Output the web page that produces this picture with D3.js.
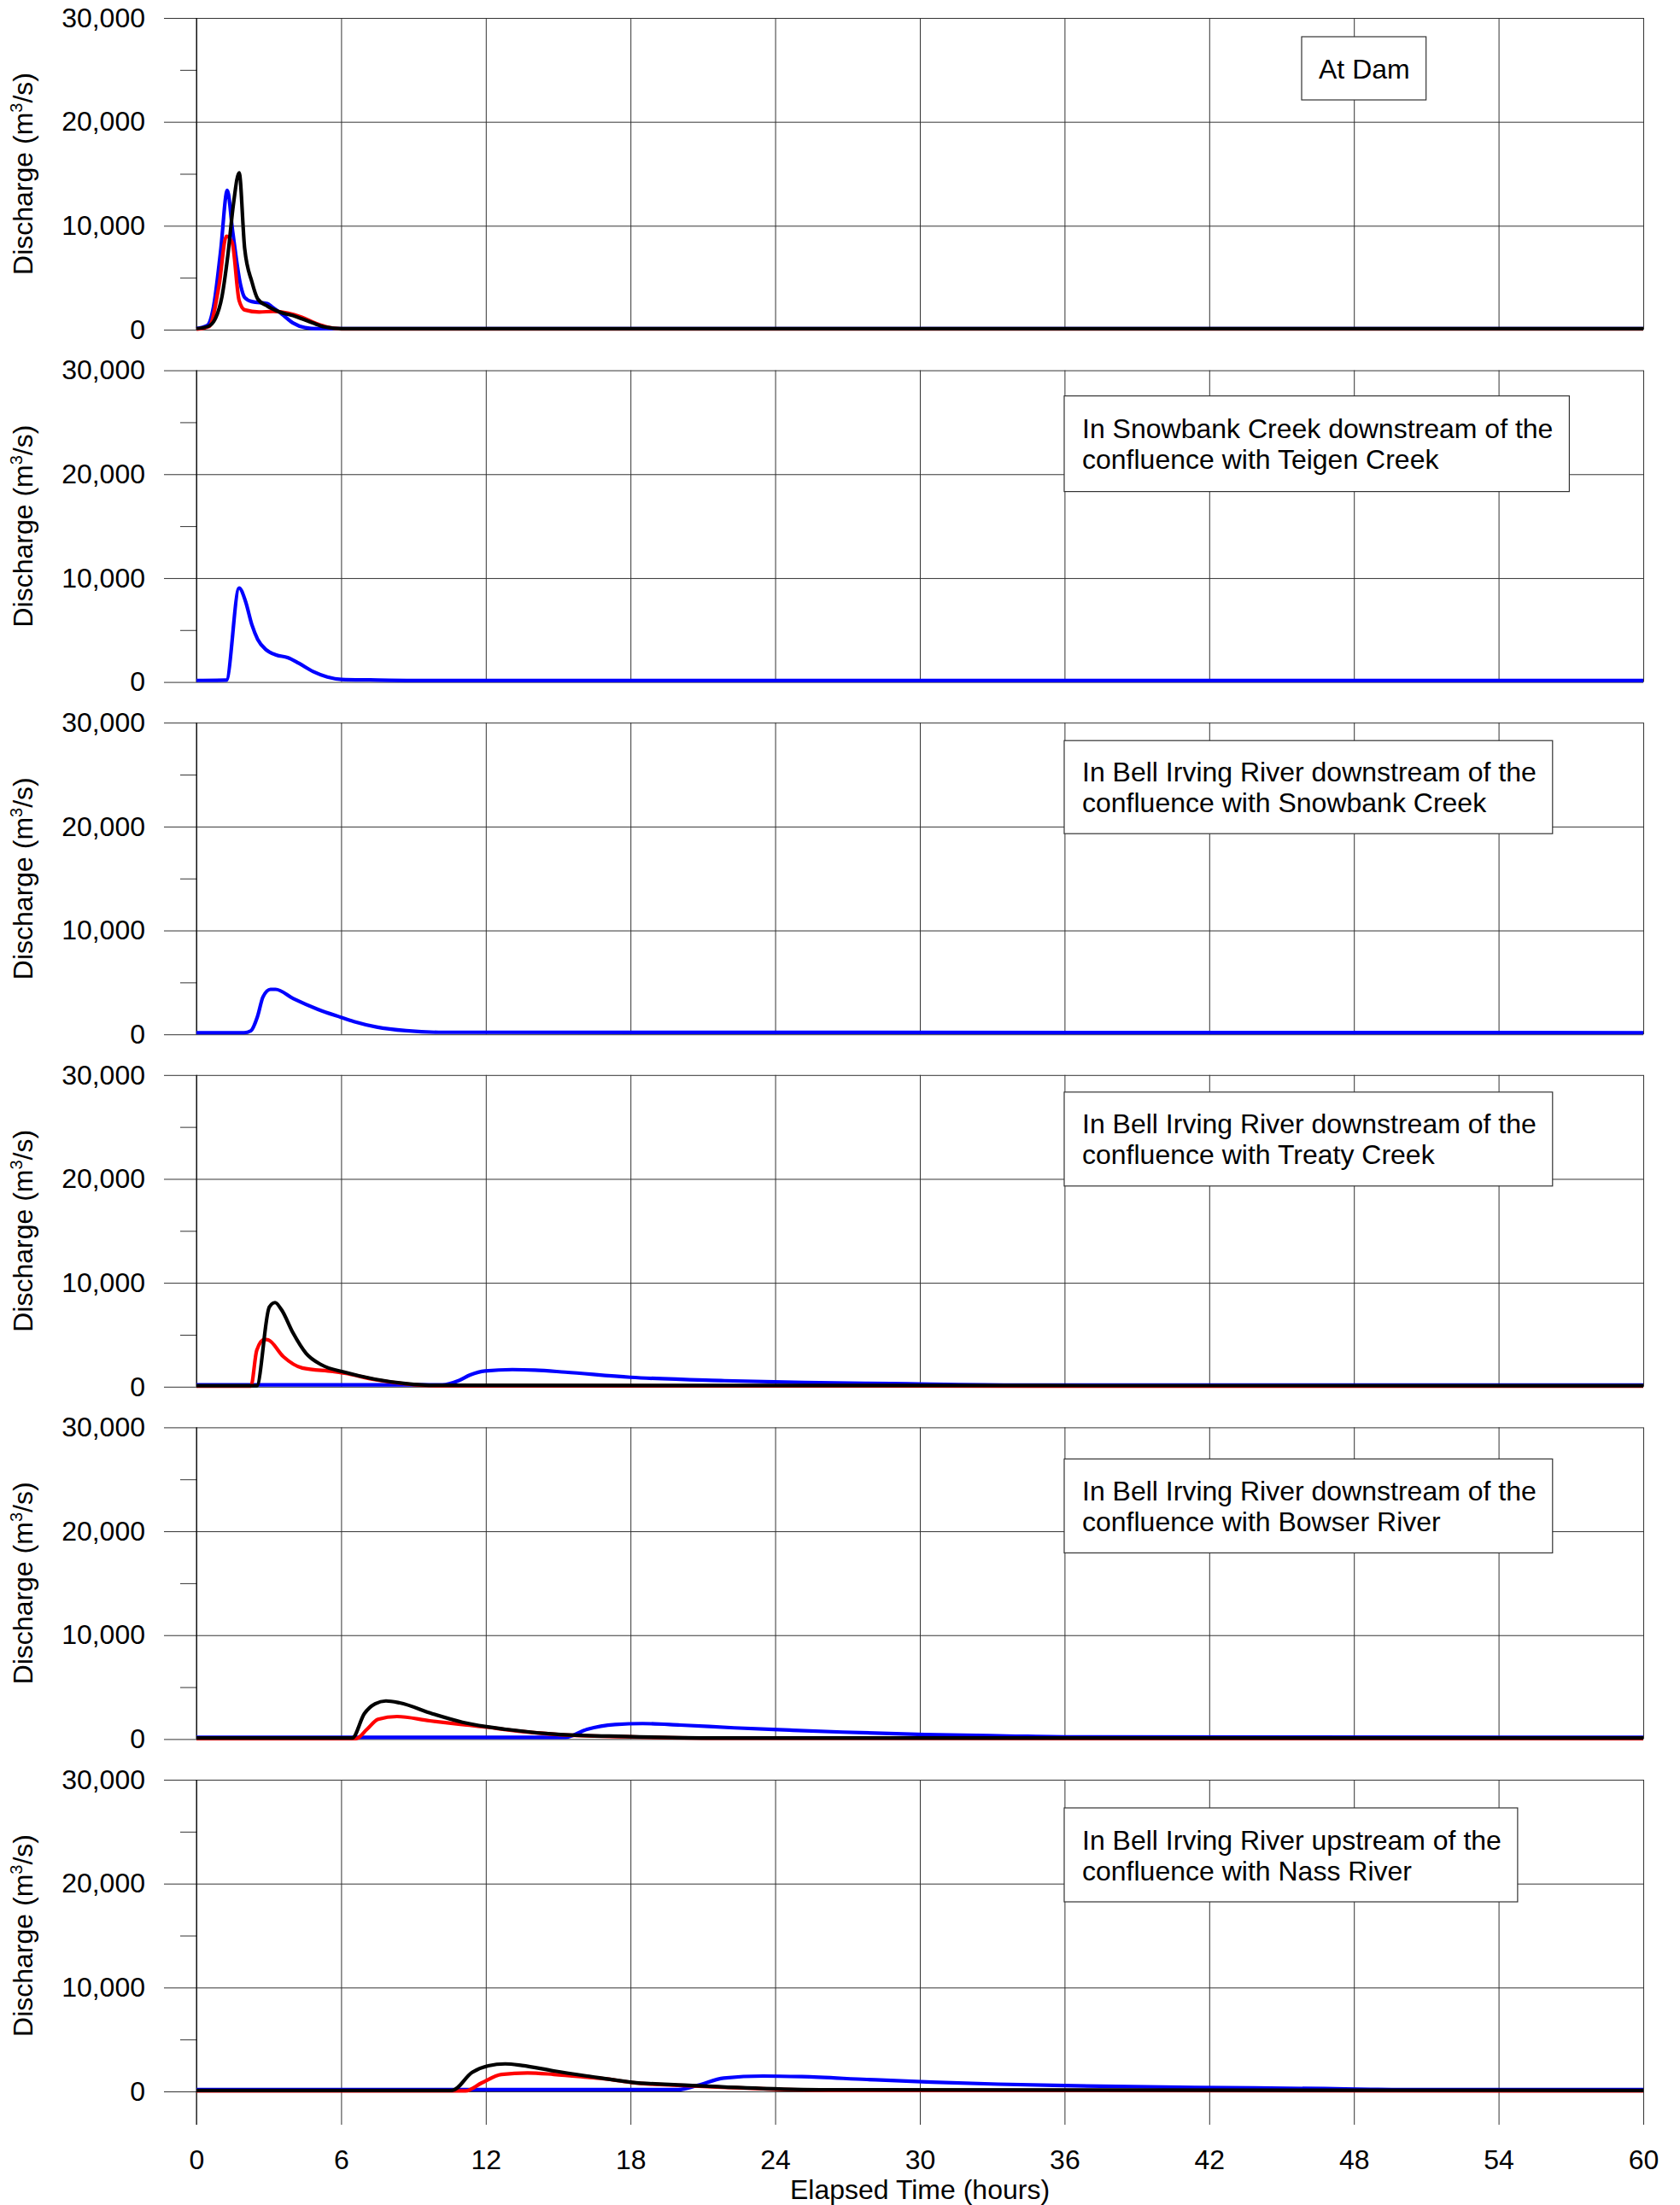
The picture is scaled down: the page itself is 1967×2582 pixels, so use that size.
<!DOCTYPE html>
<html>
<head>
<meta charset="utf-8">
<script src="https://cdnjs.cloudflare.com/ajax/libs/d3/7.8.5/d3.min.js"></script>
<style>
body { margin: 0; background: #fff; }
svg { display: block; background: #fff; }
text { font-family: "Liberation Sans", Arial, sans-serif; }
</style>
</head>
<body>
<svg width="1967" height="2582"></svg>
<script>
// ---- data (hours, m3/s) ----
var xTicks = [0, 6, 12, 18, 24, 30, 36, 42, 48, 54, 60];
var yTicks = [0, 10000, 20000, 30000];
var yMinor = [5000, 15000, 25000];

var panelLabels = [
  ["At Dam"],
  ["In Snowbank Creek downstream of the", "confluence with Teigen Creek"],
  ["In Bell Irving River downstream of the", "confluence with Snowbank Creek"],
  ["In Bell Irving River downstream of the", "confluence with Treaty Creek"],
  ["In Bell Irving River downstream of the", "confluence with Bowser River"],
  ["In Bell Irving River upstream of the", "confluence with Nass River"]
];

var damBlue = [[0,100],[0.45,400],[0.7,2100],[1.0,7500],[1.28,13400],[1.5,9500],[1.83,4300],[2.0,3100],[2.3,2700],[2.95,2500],[3.13,2200],[3.54,1500],[4.0,650],[4.5,200],[5.0,100],[60,100]];
var damRed = [[0,40],[0.53,300],[0.94,4300],[1.24,9000],[1.48,8400],[1.77,2800],[2.0,1900],[2.6,1700],[3.19,1750],[3.78,1600],[4.37,1200],[4.96,600],[5.43,250],[6.0,80],[60,60]];
var damBlack = [[0,100],[0.47,300],[0.77,1000],[1.06,3200],[1.3,7100],[1.53,12000],[1.77,15100],[2.0,7800],[2.3,4600],[2.54,2960],[2.95,2250],[3.42,1730],[4.13,1260],[4.84,630],[5.3,270],[6.0,100],[60,100]];

var teigenBlue = [[0,150],[1.24,180],[1.77,9050],[2.03,7800],[2.3,5500],[2.54,4100],[2.89,3100],[3.31,2600],[3.78,2350],[4.25,1800],[4.84,1000],[5.43,480],[6.02,250],[7.2,200],[9,150],[60,150]];

var snowbankBlue = [[0,160],[1.98,160],[2.26,350],[2.53,1700],[2.76,3600],[3.07,4330],[3.28,4330],[4.02,3430],[5.04,2400],[5.99,1640],[6.53,1230],[7.47,710],[8.7,350],[10.05,200],[60,160]];

var treatyBlack = [[0,100],[2.5,100],[3.02,7650],[3.26,8100],[3.53,7400],[4.0,5200],[4.55,3200],[5.19,2100],[6.14,1400],[7.4,720],[8.67,300],[9.92,130],[60,100]];
var treatyRed = [[0,50],[2.26,50],[2.5,3500],[2.82,4550],[2.98,4500],[3.6,2900],[4.39,1800],[5.66,1460],[6.14,1300],[7.4,680],[8.67,270],[9.92,90],[60,50]];
var treatyBlue = [[0,180],[10.2,180],[10.87,580],[11.35,1130],[11.97,1520],[13.1,1650],[14.04,1600],[15.3,1400],[18,910],[21.9,580],[25.2,400],[28.8,300],[34.2,170],[60,170]];

var bowserBlack = [[0,100],[6.46,100],[6.96,2440],[7.41,3400],[7.86,3670],[8.43,3480],[9.78,2440],[11.03,1620],[12.84,940],[15.1,440],[17.8,250],[21.9,100],[60,100]];
var bowserRed = [[0,50],[6.62,50],[7.07,940],[7.53,1900],[8.32,2170],[9.67,1760],[11.03,1400],[12.15,1120],[12.84,900],[15.1,420],[17.8,220],[21.9,80],[60,50]];
var bowserBlue = [[0,170],[15.3,170],[16.2,940],[17.36,1400],[18.5,1490],[20.06,1350],[22.3,1080],[24.6,860],[26.8,670],[30.2,440],[33.6,300],[36.6,200],[60,170]];

var nassBlack = [[0,100],[10.6,100],[11.43,1830],[12.1,2460],[12.8,2650],[13.5,2500],[14.82,1970],[16.2,1480],[18.06,880],[20.24,600],[23.5,280],[26.5,150],[60,100]];
var nassRed = [[0,50],[11.16,50],[11.83,820],[12.65,1640],[13.73,1780],[14.82,1640],[16.2,1370],[17,1200],[18.06,850],[20.24,560],[23.5,250],[26.5,100],[60,50]];
var nassBlue = [[0,170],[19.97,170],[20.8,600],[21.87,1290],[23.5,1480],[25.1,1420],[27.8,1150],[30.5,900],[33.25,700],[36,560],[41.4,380],[46.8,270],[48.7,200],[50,170],[60,170]];

var panelSeries = [
  [damBlue, damRed, damBlack],
  [teigenBlue],
  [snowbankBlue],
  [treatyBlue, treatyRed, treatyBlack],
  [bowserBlue, bowserRed, bowserBlack],
  [nassBlue, nassRed, nassBlack]
];
var seriesColors = [
  ["#0000ff", "#ff0000", "#000000"],
  ["#0000ff"],
  ["#0000ff"],
  ["#0000ff", "#ff0000", "#000000"],
  ["#0000ff", "#ff0000", "#000000"],
  ["#0000ff", "#ff0000", "#000000"]
];

// ---- layout ----
var svg = d3.select("svg"),
    left = 230, right = 1924,
    top0 = 21, step = 412.6, panelH = 365,
    fontSize = 32;

// legend box placement per panel: [offset from panel top, box height]
var boxPos = [[22, 74], [30, 112], [21, 109], [20, 110], [37, 110], [33, 110]];

var x = d3.scaleLinear().domain([0, 60]).range([0, right - left]);
var y = d3.scaleLinear().domain([0, 30000]).range([panelH, 0]);

var line = d3.line()
    .x(function(d) { return x(d[0]); })
    .y(function(d) { return y(d[1]); })
    .curve(d3.curveMonotoneX);

panelSeries.forEach(function(series, i) {
  var g = svg.append("g")
      .attr("transform", "translate(" + left + "," + (top0 + i * step) + ")");
  var last = i == panelSeries.length - 1;

  // vertical grid
  g.append("g")
      .attr("transform", "translate(0," + panelH + ")")
      .call(d3.axisBottom(x).tickValues(xTicks).tickSize(-panelH).tickFormat(""))
      .call(function(a) { a.select(".domain").remove(); })
      .selectAll("line").attr("stroke", "#333");

  // horizontal grid
  g.append("g")
      .call(d3.axisRight(y).tickValues(yTicks).tickSize(right - left).tickFormat(""))
      .call(function(a) { a.select(".domain").remove(); })
      .selectAll("line").attr("stroke", "#333");

  // y axis: major with labels, minor ticks
  var ya = g.append("g")
      .call(d3.axisLeft(y).tickValues(yTicks).tickSize(38).tickPadding(22).tickFormat(d3.format(",")));
  ya.select(".domain").remove();
  ya.selectAll("line").attr("stroke", "#333");
  ya.selectAll("text")
      .attr("font-size", fontSize)
      .attr("font-family", "Liberation Sans, Arial, sans-serif")
      .attr("fill", "#000");

  g.append("g")
      .call(d3.axisLeft(y).tickValues(yMinor).tickSize(19).tickFormat(""))
      .call(function(a) { a.select(".domain").remove(); })
      .selectAll("line").attr("stroke", "#333");

  g.append("line")
      .attr("x1", 0).attr("x2", 0)
      .attr("y1", 0).attr("y2", last ? panelH + 39 : panelH)
      .attr("stroke", "#000");

  if (last) {
    var xa = g.append("g")
        .attr("transform", "translate(0," + panelH + ")")
        .call(d3.axisBottom(x).tickValues(xTicks).tickSize(39).tickPadding(29));
    xa.select(".domain").remove();
    xa.selectAll("line").attr("stroke", "#333");
    xa.selectAll("text")
        .attr("font-size", fontSize)
        .attr("font-family", "Liberation Sans, Arial, sans-serif")
        .attr("fill", "#000");
  }

  // y label
  var yl = g.append("text")
      .attr("transform", "translate(" + (38 - left) + "," + (panelH / 2) + ") rotate(-90)")
      .attr("text-anchor", "middle")
      .attr("font-size", fontSize);
  yl.append("tspan").text("Discharge (m");
  yl.append("tspan").attr("font-size", 20).attr("dy", -12).text("3");
  yl.append("tspan").attr("dy", 12).text("/s)");

  // curves
  series.forEach(function(s, j) {
    g.append("path")
        .datum(s)
        .attr("fill", "none")
        .attr("stroke", seriesColors[i][j])
        .attr("stroke-width", 4.2)
        .attr("stroke-linejoin", "round")
        .attr("d", line);
  });

  // label box
  var lab = panelLabels[i];
  var bg = g.append("g");
  var rect = bg.append("rect")
      .attr("fill", "#fff")
      .attr("stroke", "#333")
      .attr("stroke-width", 1.2);
  var t = bg.append("text")
      .attr("font-size", fontSize)
      .attr("fill", "#000");
  lab.forEach(function(s, k) {
    t.append("tspan")
        .attr("x", 0)
        .attr("y", k * 36)
        .text(s);
  });
  var bb = t.node().getBBox();
  var bx = (lab.length == 1) ? 1524 - left : 1246 - left;
  var by = boxPos[i][0], bh = boxPos[i][1];
  var padL = lab.length == 1 ? 20 : 21;
  var bw = bb.width + padL + 19;
  var textTop = by + (bh - (lab.length * 36 - 36 + 23)) / 2 + 23;
  t.attr("transform", "translate(" + (bx + padL) + "," + textTop + ")");
  rect.attr("x", bx).attr("y", by).attr("width", bw).attr("height", bh);
});

svg.append("text")
    .attr("x", left + (right - left) / 2)
    .attr("y", 2575)
    .attr("text-anchor", "middle")
    .attr("font-size", fontSize)
    .text("Elapsed Time (hours)");
</script>
</body>
</html>
